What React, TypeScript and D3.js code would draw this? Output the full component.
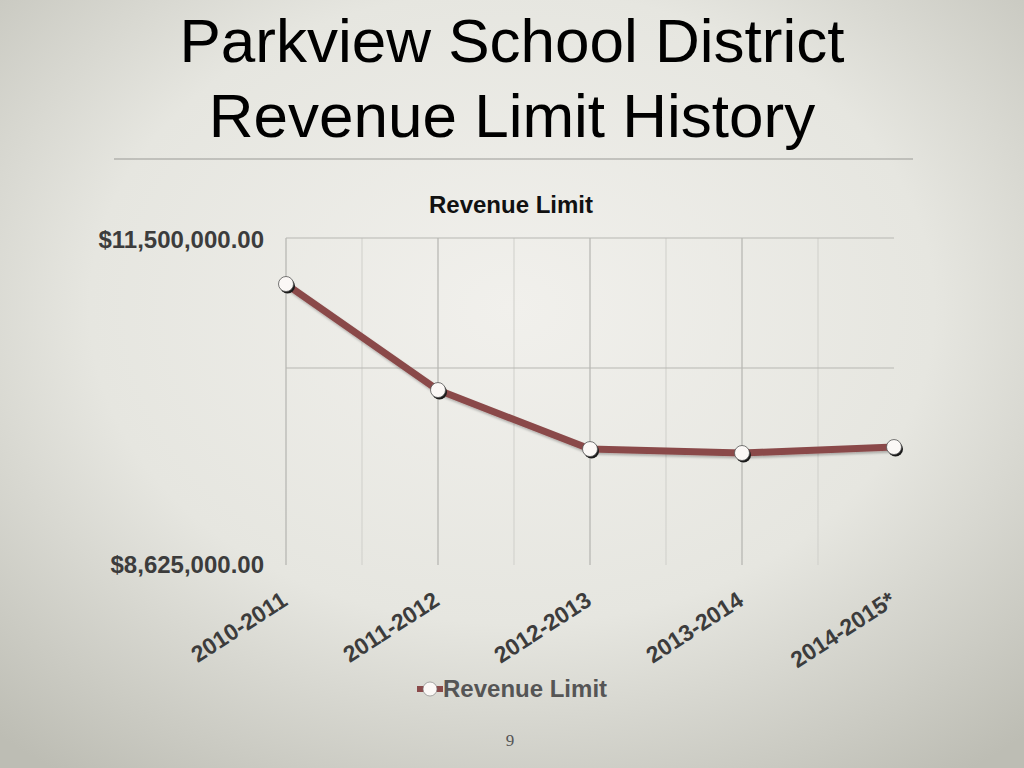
import * as d3 from "d3";

const W = 1024;
const H = 768;

const seasons = ["2010-2011", "2011-2012", "2012-2013", "2013-2014", "2014-2015*"];
const revenueLimit = [11093000, 10155000, 9633000, 9598000, 9651000];
const yLabelTicks = [11500000, 8625000];
const yGridTicks = [11500000, 10350000];
const titleLines = ["Parkview School District", "Revenue Limit History"];

const LINE_COLOR = "#8a4a4a";
const FONT = "'Liberation Sans', Arial, sans-serif";

const PLOT = { left: 286, right: 894, top: 238, bottom: 563 };

export default function App() {
  const x = d3.scalePoint<string>().domain(seasons).range([PLOT.left, PLOT.right]);
  const y = d3.scaleLinear().domain([8625000, 11500000]).range([PLOT.bottom, PLOT.top]);
  const step = x.step();

  // vertical grid every half category, the right edge is left open
  const vGrid = d3.range(0, seasons.length * 2 - 2).map(i => ({
    x: PLOT.left + (i * step) / 2,
    major: i % 2 === 0,
  }));

  const fmt = (v: number) => "$" + d3.format(",.2f")(v);

  const line = d3
    .line<number>()
    .x((_, i) => x(seasons[i])!)
    .y(d => y(d));

  return (
    <svg
      width={W}
      height={H}
      style={{ position: "absolute", left: 0, top: 0, display: "block" }}
    >
      <defs>
        <radialGradient id="bg" cx="50%" cy="40%" r="75%">
          <stop offset="0%" stopColor="#f1f0ec" />
          <stop offset="55%" stopColor="#e6e6e0" />
          <stop offset="100%" stopColor="#bdbdb4" />
        </radialGradient>
        <filter id="lineShadow" x="-10%" y="-10%" width="120%" height="130%">
          <feDropShadow dx="1" dy="2" stdDeviation="1" floodColor="#000" floodOpacity="0.25" />
        </filter>
      </defs>
      <rect width={W} height={H} fill="url(#bg)" />

      {titleLines.map((t, i) => (
        <text
          key={t}
          x={512}
          y={62 + i * 75}
          textAnchor="middle"
          fontFamily={FONT}
          fontSize={62}
          fill="#000"
        >
          {t}
        </text>
      ))}
      <line x1={114} x2={913} y1={159} y2={159} stroke="#9a9a96" strokeWidth={1.2} />

      <text
        x={511}
        y={213}
        textAnchor="middle"
        fontFamily={FONT}
        fontWeight="bold"
        fontSize={24}
        fill="#111"
      >
        Revenue Limit
      </text>

      {vGrid.map((g, i) => (
        <line
          key={i}
          x1={g.x}
          x2={g.x}
          y1={PLOT.top}
          y2={PLOT.bottom + 2}
          stroke={g.major ? "#a9a9a5" : "#cfcfca"}
          strokeWidth={1}
        />
      ))}
      {yGridTicks.map(t => (
        <line
          key={t}
          x1={PLOT.left}
          x2={PLOT.right}
          y1={y(t)}
          y2={y(t)}
          stroke="#b7b7b2"
          strokeWidth={1}
        />
      ))}

      {yLabelTicks.map(t => (
        <text
          key={t}
          x={264}
          y={y(t) + 10}
          textAnchor="end"
          fontFamily={FONT}
          fontWeight="bold"
          fontSize={24}
          fill="#3c3c3c"
        >
          {fmt(t)}
        </text>
      ))}

      {seasons.map(s => (
        <text
          key={s}
          transform={`translate(${x(s)! + 3}, 604) rotate(-33)`}
          textAnchor="end"
          fontFamily={FONT}
          fontWeight="bold"
          fontSize={23}
          fill="#3c3c3c"
        >
          {s}
        </text>
      ))}

      <path
        d={line(revenueLimit) ?? ""}
        fill="none"
        stroke={LINE_COLOR}
        strokeWidth={7}
        strokeLinejoin="round"
        filter="url(#lineShadow)"
      />
      {revenueLimit.map((v, i) => (
        <g key={i}>
          <circle cx={x(seasons[i])! + 1.5} cy={y(v) + 2} r={7.5} fill="#1a1a1a" />
          <circle cx={x(seasons[i])!} cy={y(v)} r={7.5} fill="#fbf8f6" stroke="#555" strokeWidth={0.8} />
        </g>
      ))}

      <g>
        <line x1={417} x2={443} y1={689} y2={689} stroke={LINE_COLOR} strokeWidth={6} />
        <circle cx={430} cy={689} r={7} fill="#fbf8f6" stroke="#777" strokeWidth={0.6} />
        <text
          x={443}
          y={697}
          fontFamily={FONT}
          fontWeight="bold"
          fontSize={24}
          fill="#555"
        >
          Revenue Limit
        </text>
      </g>

      <text
        x={510}
        y={746}
        textAnchor="middle"
        fontFamily="'Liberation Serif', 'DejaVu Serif', serif"
        fontSize={17}
        fill="#555"
      >
        9
      </text>
    </svg>
  );
}
